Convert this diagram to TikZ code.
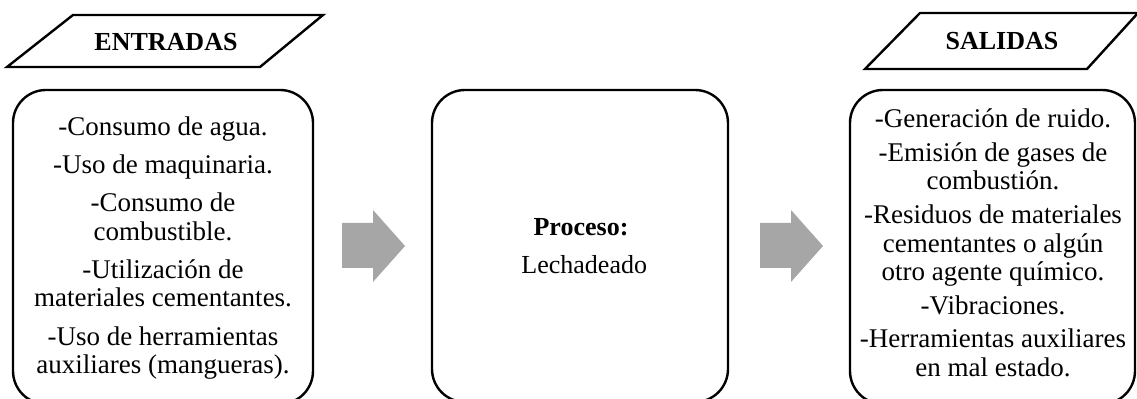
\documentclass[tikz,border=0pt]{standalone}
\usepackage{fontspec}
\setmainfont{Liberation Serif}
\usetikzlibrary{positioning}
\definecolor{grisflecha}{HTML}{A6A6A6}
\tikzset{
  caja/.style={draw, line width=1.2pt, rounded corners=16.5pt},
  titulo/.style={draw, line width=1.2pt},
  flecha/.style={fill=grisflecha, draw=none},
  texto/.style={align=center, inner sep=0pt, font=\fontsize{13.5}{14.3}\selectfont},
  cabecera/.style={inner sep=0pt, font=\fontsize{13}{15}\selectfont\bfseries},
}
\begin{document}
\begin{tikzpicture}[x=0.5pt, y=-0.5pt]
  \useasboundingbox (0,0) rectangle (1137,399);
  % titulos
  \draw[titulo] (73,15) -- (323,15) -- (260,67) -- (7,67) -- cycle;
  \draw[titulo] (920,13) -- (1138,13) -- (1087,69) -- (865,69) -- cycle;
  \node[cabecera] (entradas) at (166,42) {ENTRADAS};
  \node[cabecera] (salidas) at (1002,41) {SALIDAS};
  % cajas
  \draw[caja] (13,90) rectangle (313,404);
  \draw[caja] (432,90) rectangle (728,402);
  \draw[caja] (850,90) rectangle (1135,404);
  \node[texto] (listaent) at (163,248) {-Consumo de agua.\\[4.8pt]
    -Uso de maquinaria.\\[4.8pt]
    -Consumo de\\ combustible.\\[4.8pt]
    -Utilización de\\ materiales cementantes.\\[4.8pt]
    -Uso de herramientas\\ auxiliares (mangueras).};
  \node[texto, font=\fontsize{13}{14.3}\selectfont] (proceso) at (581,246)
    {\textbf{Proceso:}\\[4.5pt] \ Lechadeado};
  \node[texto] (listasal) at (993,243) {-Generación de ruido.\\[2.5pt]
    -Emisión de gases de\\ combustión.\\[2.5pt]
    -Residuos de materiales\\ cementantes o algún\\ otro agente químico.\\[2.5pt]
    -Vibraciones.\\[2.5pt]
    -Herramientas auxiliares\\ en mal estado.};
  % flechas
  \foreach \x in {342,760}
    \fill[flecha] (\x,223) -- ++(31,0) -- ++(0,-13) -- ++(32,36)
      -- ++(-32,36) -- ++(0,-14) -- ++(-31,0) -- cycle;
\end{tikzpicture}
\end{document}
